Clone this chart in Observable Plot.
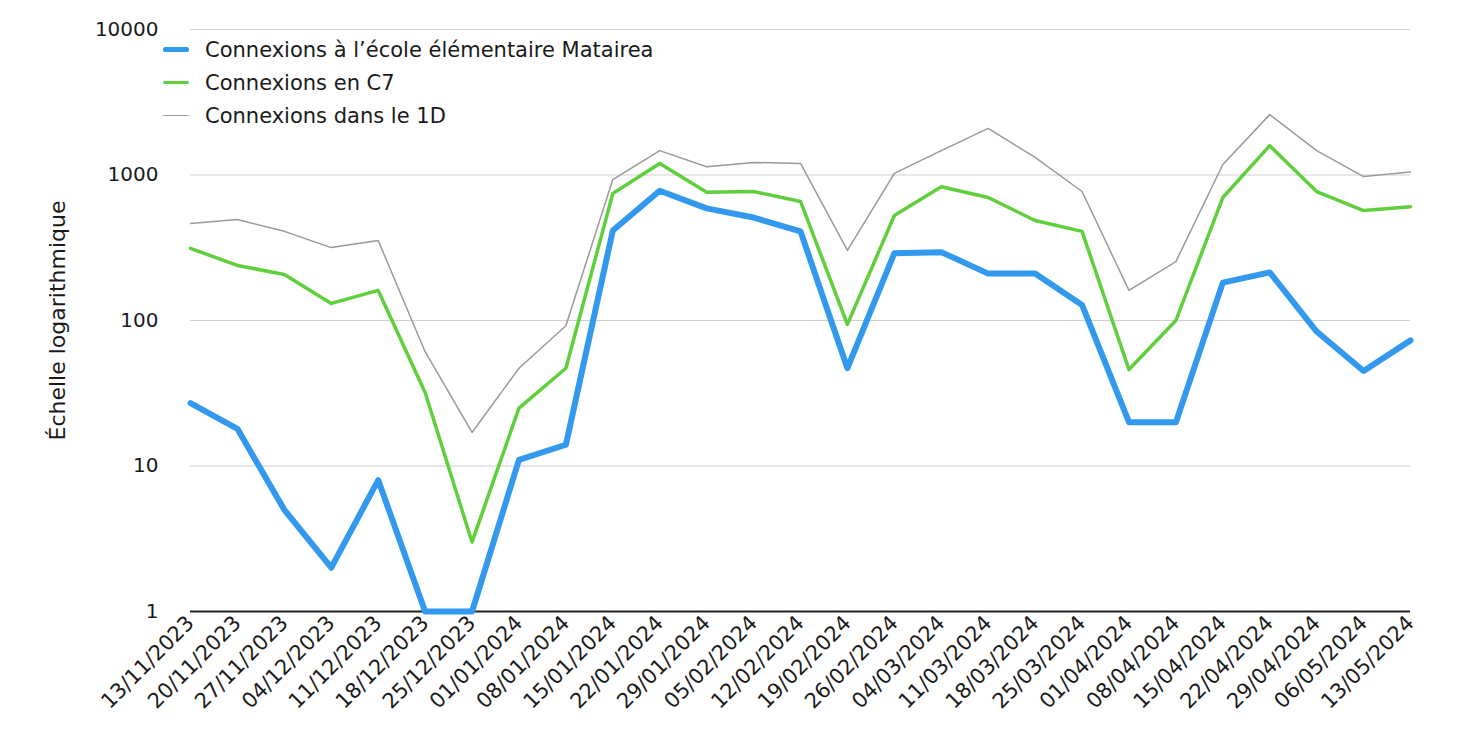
<!DOCTYPE html>
<html>
<head>
<meta charset="utf-8">
<script src="https://cdn.jsdelivr.net/npm/d3@7"></script>
<script src="https://cdn.jsdelivr.net/npm/@observablehq/plot@0.6"></script>
<style>
  html, body { margin: 0; padding: 0; background: #fff; }
  #wrap { position: relative; width: 1461px; height: 741px; font-family: "DejaVu Sans", sans-serif; }
  #legend { position: absolute; left: 163px; top: 33px; font-size: 21px; color: #1a1a1a; }
  #legend .row { display: flex; align-items: center; height: 33px; }
  #legend .sw { width: 26px; margin-right: 16px; border-radius: 2px; }
</style>
</head>
<body>
<div id="wrap">
  <div id="chart"></div>
  <div id="legend"></div>
</div>
<script>
const dates = ["13/11/2023","20/11/2023","27/11/2023","04/12/2023","11/12/2023","18/12/2023","25/12/2023","01/01/2024","08/01/2024","15/01/2024","22/01/2024","29/01/2024","05/02/2024","12/02/2024","19/02/2024","26/02/2024","04/03/2024","11/03/2024","18/03/2024","25/03/2024","01/04/2024","08/04/2024","15/04/2024","22/04/2024","29/04/2024","06/05/2024","13/05/2024"];
const matairea = [27,18,5,2,8,1,1,11,14,415,780,590,510,410,47,290,295,210,210,128,20,20,182,214,84,45,73];
const c7 = [313,239,207,131,161,32,3,25,47,746,1200,760,770,658,94,527,830,700,487,410,46,100,700,1590,770,570,605];
const d1 = [464,494,410,317,355,61,17,47,92,930,1470,1140,1220,1200,303,1025,1470,2090,1320,770,161,254,1180,2600,1470,975,1050];
const seriesNames = ["Connexions à l’école élémentaire Matairea","Connexions en C7","Connexions dans le 1D"];
const seriesColors = ["#3399ee","#5fcf3c","#9a9a9a"];
const seriesWidths = [6,3.5,1.5];
const yTicks = [1,10,100,1000,10000];
const yLabel = "Échelle logarithmique";

const toRows = (vals) => dates.map((d, i) => ({date: d, value: vals[i]}));
const rows = [toRows(matairea), toRows(c7), toRows(d1)];

const chart = Plot.plot({
  width: 1461,
  height: 741,
  marginLeft: 190,
  marginRight: 51,
  marginTop: 29,
  marginBottom: 130,
  style: {fontFamily: "'DejaVu Sans', sans-serif", fontSize: "20px", color: "#1a1a1a", background: "#fff"},
  x: {type: "point", domain: dates, padding: 0, round: false, label: null},
  y: {type: "log", domain: [1, 10000], label: null},
  marks: [
    Plot.gridY(yTicks.slice(1), {stroke: "#cfcfcf", strokeOpacity: 1, strokeWidth: 1.2}),
    Plot.ruleY([1], {stroke: "#222", strokeWidth: 2}),
    Plot.axisY(yTicks, {tickSize: 0, tickPadding: 32, tickFormat: d => String(d), fontSize: 20,
      label: yLabel, labelAnchor: "center", labelArrow: "none", labelOffset: 141}),
    Plot.axisX({tickSize: 0, tickRotate: -45, tickPadding: 8, fontSize: 21, label: null}),
    Plot.lineY(rows[2], {x: "date", y: "value", stroke: seriesColors[2], strokeWidth: seriesWidths[2]}),
    Plot.lineY(rows[1], {x: "date", y: "value", stroke: seriesColors[1], strokeWidth: seriesWidths[1]}),
    Plot.lineY(rows[0], {x: "date", y: "value", stroke: seriesColors[0], strokeWidth: seriesWidths[0]})
  ]
});
chart.querySelectorAll("[aria-label='y-axis label'] text, [aria-label='y-axis label']").forEach(el => el.setAttribute("font-size", "22"));
document.getElementById("chart").appendChild(chart);

const legend = document.getElementById("legend");
seriesNames.forEach((name, i) => {
  const row = document.createElement("div");
  row.className = "row";
  const sw = document.createElement("span");
  sw.className = "sw";
  sw.style.background = seriesColors[i];
  sw.style.height = Math.max(seriesWidths[i] * 0.8, 1.5) + "px";
  const t = document.createElement("span");
  t.textContent = name;
  row.appendChild(sw);
  row.appendChild(t);
  legend.appendChild(row);
});
</script>
</body>
</html>
